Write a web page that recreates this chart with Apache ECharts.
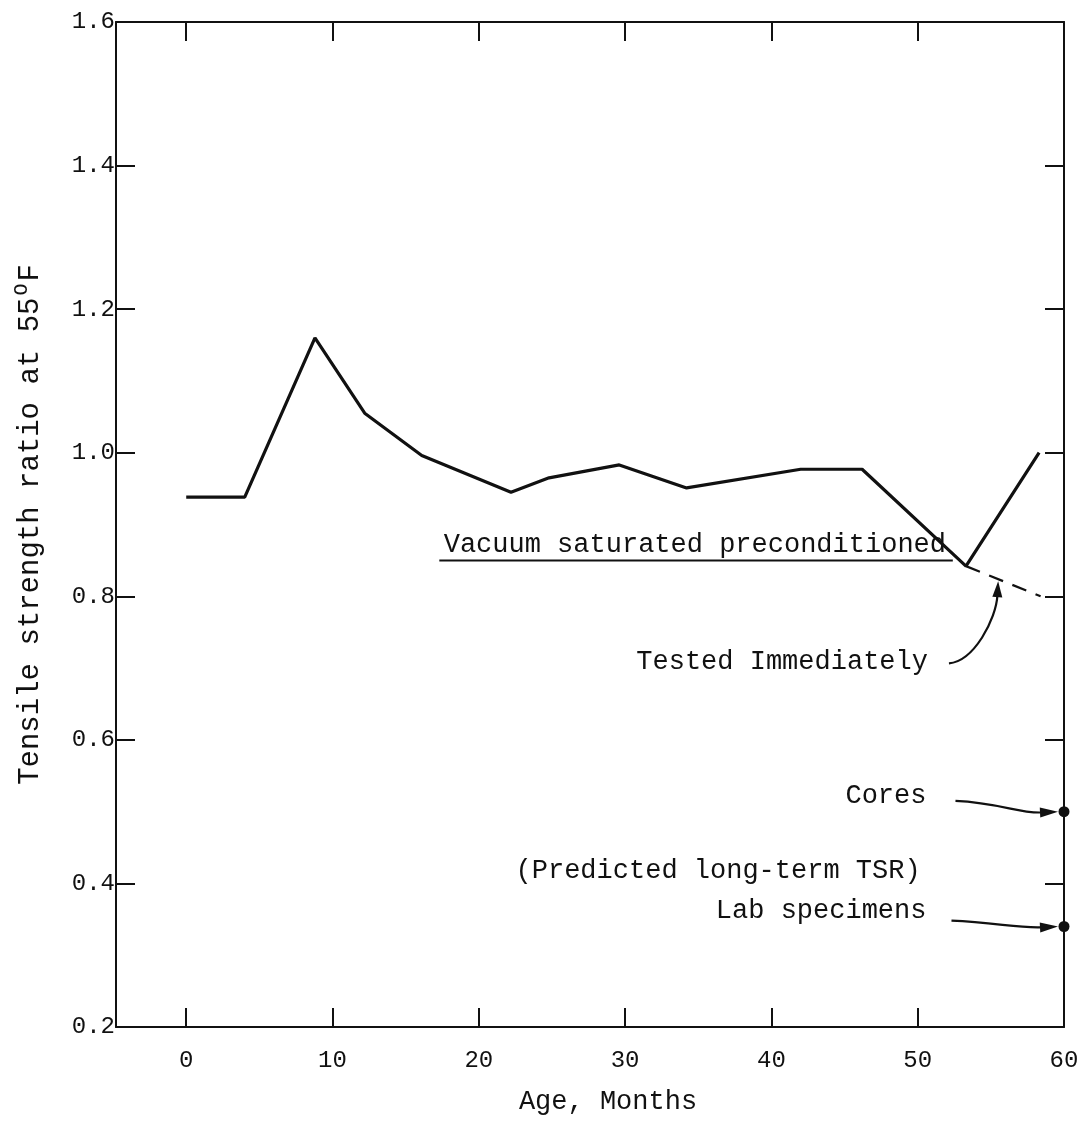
<!DOCTYPE html>
<html><head><meta charset="utf-8">
<script src="https://cdn.jsdelivr.net/npm/echarts@6/dist/echarts.min.js"></script>
<style>html,body{margin:0;padding:0;background:#fff}#c{width:1083px;height:1146px}</style>
</head><body><div id="c"></div>
<script>
// ---- data ----
const ageMonths = [0, 4, 8.8, 12.2, 16.1, 22.2, 24.8, 29.6, 34.2, 42.0, 46.2, 53.3, 58.3];
const tsrVacuum = [0.938, 0.938, 1.16, 1.055, 0.996, 0.945, 0.965, 0.983, 0.951, 0.977, 0.977, 0.842, 1.0];
const testedAge = [53.3, 58.4];
const testedTsr = [0.842, 0.80];
const predictedNames = ['Cores', 'Lab specimens'];
const predictedAge = [60, 60];
const predictedTsr = [0.50, 0.34];
const xTickValues = [0, 10, 20, 30, 40, 50, 60];
const xInnerTicks = [0, 10, 20, 30, 40, 50];
const yRightTicks = [0.4, 0.6, 0.8, 1.0, 1.2, 1.4];

const FONT = "'Liberation Mono', 'Courier New', monospace";
const INK = '#111';

const chart = echarts.init(document.getElementById('c'), null, {renderer: 'canvas'});

const axisLine = {show: true, onZero: false, lineStyle: {color: INK, width: 2}};
const tick = {show: true, inside: true, length: 19, lineStyle: {color: INK, width: 2}};

const option = {
  backgroundColor: '#fff',
  animation: false,
  grid: {left: 116, right: 19, top: 22, bottom: 119, containLabel: false, outerBoundsMode: 'none'},
  xAxis: [
    {
      type: 'value', min: -4.8, max: 60, position: 'bottom',
      axisLine: axisLine,
      axisTick: Object.assign({}, tick, {customValues: xInnerTicks}),
      axisLabel: {customValues: xTickValues, color: INK, fontFamily: FONT, fontSize: 24, margin: 22,
                  formatter: v => String(v)},
      splitLine: {show: false},
      name: 'Age, Months', nameLocation: 'middle', nameGap: 61,
      nameTextStyle: {color: INK, fontFamily: FONT, fontSize: 27, padding: [0, 0, 0, 36]}
    },
    {
      type: 'value', min: -4.8, max: 60, position: 'top',
      axisLine: axisLine,
      axisTick: Object.assign({}, tick, {customValues: xInnerTicks}),
      axisLabel: {show: false}, splitLine: {show: false}
    }
  ],
  yAxis: [
    {
      type: 'value', min: 0.2, max: 1.6, interval: 0.2, position: 'left',
      axisLine: axisLine,
      axisTick: tick,
      axisLabel: {color: INK, fontFamily: FONT, fontSize: 24, margin: 1, formatter: v => v.toFixed(1)},
      splitLine: {show: false},
      name: '{a|Tensile strength ratio at 55}{s|O}{a|F}', nameLocation: 'middle', nameRotate: 90, nameGap: 68,
      nameTextStyle: {
        color: INK, fontFamily: FONT, fontSize: 29,
        rich: {
          a: {fontFamily: FONT, fontSize: 29, color: INK, lineHeight: 36},
          s: {fontFamily: FONT, fontSize: 20, color: INK, verticalAlign: 'top', lineHeight: 36, padding: [0, 2, 14, 2]}
        }
      }
    },
    {
      type: 'value', min: 0.2, max: 1.6, interval: 0.2, position: 'right',
      axisLine: axisLine,
      axisTick: Object.assign({}, tick, {customValues: yRightTicks}),
      axisLabel: {show: false}, splitLine: {show: false}
    }
  ],
  series: [
    {
      name: 'Vacuum saturated preconditioned', type: 'line', xAxisIndex: 0, yAxisIndex: 0,
      data: ageMonths.map((a, i) => [a, tsrVacuum[i]]),
      symbol: 'none', lineStyle: {color: INK, width: 3.2}, z: 5
    },
    {
      name: 'Tested Immediately', type: 'line', xAxisIndex: 0, yAxisIndex: 0,
      data: testedAge.map((a, i) => [a, testedTsr[i]]),
      symbol: 'none', lineStyle: {color: INK, width: 2.2, type: [15, 10]}, z: 4
    },
    {
      name: 'Predicted long-term TSR', type: 'scatter', xAxisIndex: 0, yAxisIndex: 0,
      data: predictedAge.map((a, i) => ({name: predictedNames[i], value: [a, predictedTsr[i]]})),
      symbol: 'circle', symbolSize: 11, clip: false, itemStyle: {color: INK, opacity: 1}, z: 6
    }
  ]
};
chart.setOption(option);

// ---- annotations, anchored in data coordinates ----
const px = (x, y) => chart.convertToPixel({xAxisIndex: 0, yAxisIndex: 0}, [x, y]);
const textStyle = (txt, align) => ({text: txt, fill: INK, font: '27px ' + FONT, align: align, verticalAlign: 'middle'});

function arrow(p0, c1, c2, p1, headLen, headW) {
  const dx = p1[0] - c2[0], dy = p1[1] - c2[1];
  const L = Math.hypot(dx, dy) || 1;
  const ux = dx / L, uy = dy / L;
  const bx = p1[0] - ux * headLen, by = p1[1] - uy * headLen;
  return [
    {type: 'bezierCurve', shape: {x1: p0[0], y1: p0[1], cpx1: c1[0], cpy1: c1[1], cpx2: c2[0], cpy2: c2[1], x2: bx + ux * 2, y2: by + uy * 2},
     style: {stroke: INK, lineWidth: 2.2, fill: null}, z: 10},
    {type: 'polygon', shape: {points: [[p1[0], p1[1]], [bx - uy * headW, by + ux * headW], [bx + uy * headW, by - ux * headW]]},
     style: {fill: INK}, z: 10}
  ];
}

// label anchors (data units)
const vacLabel = [17.6, 0.872];
const underline = [[17.3, 0.850], [52.4, 0.850]];
const testedLabel = [50.7, 0.708];
const coresLabel = [50.6, 0.522];
const predLabel = [50.2, 0.417];
const labLabel = [50.6, 0.362];

const g = [];
let p = px(vacLabel[0], vacLabel[1]);
g.push({type: 'text', x: p[0], y: p[1], style: textStyle('Vacuum saturated preconditioned', 'left'), z: 8});
const u0 = px(underline[0][0], underline[0][1]), u1 = px(underline[1][0], underline[1][1]);
g.push({type: 'line', shape: {x1: u0[0], y1: u0[1], x2: u1[0], y2: u1[1]}, style: {stroke: INK, lineWidth: 2}, z: 8});

p = px(testedLabel[0], testedLabel[1]);
g.push({type: 'text', x: p[0], y: p[1], style: textStyle('Tested Immediately', 'right'), z: 8});
// arrow to dashed line
const tx = 55.5;
const ty = testedTsr[0] + (testedTsr[1] - testedTsr[0]) * (tx - testedAge[0]) / (testedAge[1] - testedAge[0]);
const tip = px(tx, ty);
const s0 = [p[0] + 21, p[1] + 1];
g.push(...arrow(s0, [s0[0] + 25, s0[1] - 2], [tip[0] - 2, tip[1] + 40], [tip[0], tip[1] + 2], 16, 5));

p = px(coresLabel[0], coresLabel[1]);
g.push({type: 'text', x: p[0], y: p[1], style: textStyle('Cores', 'right'), z: 8});
let d = px(predictedAge[0], predictedTsr[0]);
let a0 = [p[0] + 29, p[1] + 5];
g.push(...arrow(a0, [a0[0] + 45, a0[1] + 2], [d[0] - 45, d[1] + 2], [d[0] - 6, d[1]], 18, 5));

p = px(predLabel[0], predLabel[1]);
g.push({type: 'text', x: p[0], y: p[1], style: textStyle('(Predicted long-term TSR)', 'right'), z: 8});

p = px(labLabel[0], labLabel[1]);
g.push({type: 'text', x: p[0], y: p[1], style: textStyle('Lab specimens', 'right'), z: 8});
d = px(predictedAge[1], predictedTsr[1]);
a0 = [p[0] + 25, p[1] + 10];
g.push(...arrow(a0, [a0[0] + 45, a0[1] + 2], [d[0] - 45, d[1] + 2], [d[0] - 6, d[1]], 18, 5));

chart.setOption({graphic: {elements: g}});
</script>
</body></html>
